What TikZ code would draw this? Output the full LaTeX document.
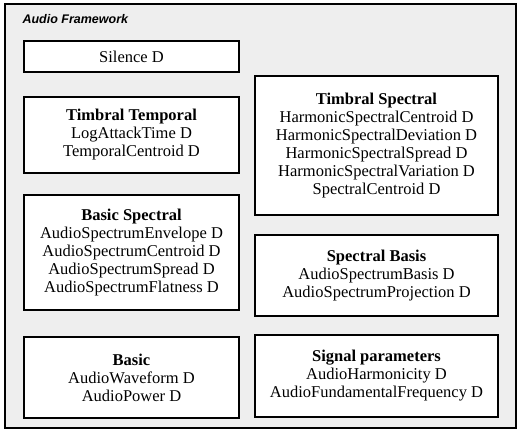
\documentclass[tikz,border=0pt]{standalone}
\usepackage{fontspec}
\setmainfont{Liberation Serif}
\newfontfamily\framefont{Liberation Sans}
\usepackage{tikz}

\begin{document}
\begin{tikzpicture}[x=1pt, y=-1pt]
 \tikzstyle{descr}=[rectangle, draw, fill=white, line width=1.6pt, inner sep=0pt, align=center,
   font=\fontsize{16.5}{18}\selectfont]
 \tikzstyle{leftbox}=[descr, minimum width=215pt]
 \tikzstyle{rightbox}=[descr, minimum width=243pt]
 %
 \useasboundingbox (0,0) rectangle (522,433);
 \draw[line width=1.2pt, fill=gray!13] (5,4) rectangle (516,428);
 \node[anchor=west, font=\framefont\fontsize{12.5}{14}\selectfont\bfseries\itshape] (title) at (19,19) {Audio Framework};
 %
 \node[leftbox, minimum height=31pt] (silence) at (131.5, 56.5) {Silence D};
 \node[leftbox, minimum height=76pt] (timtemp) at (131.5, 135) {\textbf{Timbral Temporal}\\LogAttackTime D\\TemporalCentroid D};
 \node[leftbox, minimum height=115pt] (basspec) at (131.5, 252.5) {\textbf{Basic Spectral}\\AudioSpectrumEnvelope D\\AudioSpectrumCentroid D\\AudioSpectrumSpread D\\AudioSpectrumFlatness D};
 \node[leftbox, minimum height=81pt] (basic) at (131.5, 377.5) {\textbf{Basic}\\AudioWaveform D\\AudioPower D};
 %
 \node[rightbox, minimum height=139pt] (timspec) at (376.5, 145.5) {\textbf{Timbral Spectral}\\HarmonicSpectralCentroid D\\HarmonicSpectralDeviation D\\HarmonicSpectralSpread D\\HarmonicSpectralVariation D\\SpectralCentroid D};
 \node[rightbox, minimum height=81pt] (specbasis) at (376.5, 275.5) {\textbf{Spectral Basis}\\AudioSpectrumBasis D\\AudioSpectrumProjection D};
 \node[rightbox, minimum height=82pt] (sigparam) at (376.5, 376) {\textbf{Signal parameters}\\AudioHarmonicity D\\AudioFundamentalFrequency D};
\end{tikzpicture}
\end{document}
